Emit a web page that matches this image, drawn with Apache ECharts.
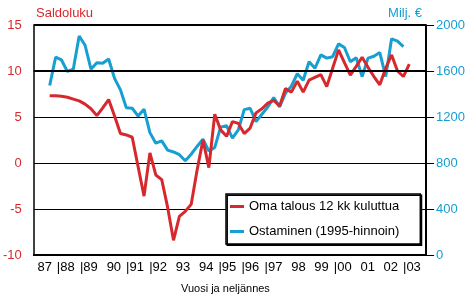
<!DOCTYPE html>
<html><head><meta charset="utf-8">
<script src="https://cdn.jsdelivr.net/npm/echarts@6/dist/echarts.min.js"></script>
<style>html,body{margin:0;padding:0;background:#fff}#c{width:468px;height:299px}</style>
</head><body><div id="c"></div>
<script>
// Year labels along the x axis (as printed in the original)
const yearLabels = ['87','|88','|89','90','|91','|92','93','94','|95','|96','|97','98','99','|00','01','02','|03'];
const seriesNames = ['Oma talous 12 kk kuluttua', 'Ostaminen (1995-hinnoin)'];
// Saldoluku (left axis), quarterly
const omaTalous = [7.3, 7.3, 7.25, 7.15, 6.95, 6.75, 6.4, 5.9, 5.15, 6.0, 6.9, 5.1, 3.2, 3.05, 2.8,
  -0.4, -3.6, 1.1, -1.3, -1.8, -4.8, -8.4, -5.8, -5.25, -4.5, -0.8, 2.5, -0.5, 5.3, 3.6, 2.9,
  4.5, 4.3, 3.2, 3.8, 5.45, 5.9, 6.5, 6.8, 6.2, 8.1, 7.7, 8.9, 7.7, 9.0, 9.3, 9.6, 8.3, 10.3,
  12.3, 10.9, 9.55, 10.5, 11.5, 10.4, 9.4, 8.5, 10.3, 11.75, 10.0, 9.4, 10.75];
// Milj. € (right axis), quarterly
const ostaminen = [1474, 1720, 1696, 1596, 1616, 1904, 1824, 1616, 1672, 1668, 1704, 1536, 1436, 1280,
  1276, 1208, 1268, 1064, 972, 992, 912, 896, 872, 820, 876, 944, 1008, 904, 936, 1112, 1124,
  1016, 1088, 1264, 1276, 1160, 1224, 1288, 1368, 1288, 1408, 1468, 1576, 1520, 1680, 1624,
  1740, 1712, 1724, 1836, 1804, 1680, 1716, 1552, 1712, 1728, 1760, 1552, 1880, 1860, 1812];
const heavyLines = [10, 15];

const RED = '#d7282e', BLUE = '#169fd0';
const FONT = 'Liberation Sans, Arial, sans-serif';
const chart = echarts.init(document.getElementById('c'), null, {renderer: 'canvas'});
chart.setOption({
  animation: false,
  backgroundColor: '#fff',
  textStyle: {fontFamily: FONT},
  title: [
    {text: 'Saldoluku', left: 31, top: 2, textStyle: {color: RED, fontSize: 13, fontWeight: 'normal', fontFamily: FONT}},
    {text: 'Milj. €', right: 41, top: 2, textStyle: {color: BLUE, fontSize: 13, fontWeight: 'normal', fontFamily: FONT}}
  ],
  grid: {left: 33, right: 41, top: 25, bottom: 43, containLabel: false},
  legend: {
    orient: 'vertical', left: 226, top: 194,
    data: seriesNames,
    icon: 'rect', itemWidth: 14, itemHeight: 3, itemGap: 12,
    padding: [6, 21, 6, 4],
    backgroundColor: '#fff', borderColor: '#000', borderWidth: 1.5,
    shadowColor: '#000', shadowBlur: 0, shadowOffsetX: 1.2, shadowOffsetY: 1.2,
    textStyle: {color: '#000', fontSize: 13, fontFamily: FONT}
  },
  xAxis: [
    {type: 'value', min: -2.7, max: 63.85,
     axisLine: {show: true, onZero: false, lineStyle: {color: '#000', width: 2}},
     axisTick: {show: false}, axisLabel: {show: false}, splitLine: {show: false},
     name: 'Vuosi ja neljännes', nameLocation: 'middle', nameGap: 28,
     nameTextStyle: {color: '#000', fontSize: 11, fontFamily: FONT, padding: [0, 9, 0, 0]}},
    {type: 'value', min: 0, max: 17, interval: 1, position: 'bottom',
     axisLine: {show: false, onZero: false}, axisTick: {show: false}, splitLine: {show: false},
     axisLabel: {show: true, align: 'left', margin: 6, color: '#000', fontSize: 13, fontFamily: FONT,
       showMaxLabel: false,
       formatter: v => yearLabels[v] !== undefined ? (yearLabels[v][0] === '|' ? yearLabels[v] : ' ' + yearLabels[v]) : ''}}
  ],
  yAxis: [
    {type: 'value', min: -10, max: 15, interval: 5,
     axisLine: {show: true, onZero: false, lineStyle: {color: '#000', width: 1.5}},
     axisTick: {show: false},
     axisLabel: {color: RED, fontSize: 13, margin: 12, fontFamily: FONT},
     splitLine: {show: true, lineStyle: {color: '#000', width: 1}}},
    {type: 'value', min: 0, max: 2000, interval: 400, position: 'right',
     axisLine: {show: true, onZero: false, lineStyle: {color: '#000', width: 2}},
     axisTick: {show: true, inside: false, length: 8, lineStyle: {color: '#000', width: 1}},
     axisLabel: {color: BLUE, fontSize: 13, margin: 10, fontFamily: FONT, formatter: v => String(v)},
     splitLine: {show: false}}
  ],
  series: [
    {type: 'line', name: '__grid', xAxisIndex: 0, yAxisIndex: 0, data: [], z: 1, silent: true,
     markLine: {silent: true, symbol: 'none', label: {show: false},
       lineStyle: {color: '#000', width: 2, type: 'solid'},
       data: heavyLines.map(v => ({yAxis: v}))}},
    {type: 'line', name: seriesNames[1], xAxisIndex: 0, yAxisIndex: 1, z: 3,
     data: ostaminen.map((v, i) => [i, v]), showSymbol: false, symbol: 'none',
     lineStyle: {color: BLUE, width: 3}, itemStyle: {color: BLUE}},
    {type: 'line', name: seriesNames[0], xAxisIndex: 0, yAxisIndex: 0, z: 4,
     data: omaTalous.map((v, i) => [i, v]), showSymbol: false, symbol: 'none',
     lineStyle: {color: RED, width: 3}, itemStyle: {color: RED}}
  ]
});
</script></body></html>
